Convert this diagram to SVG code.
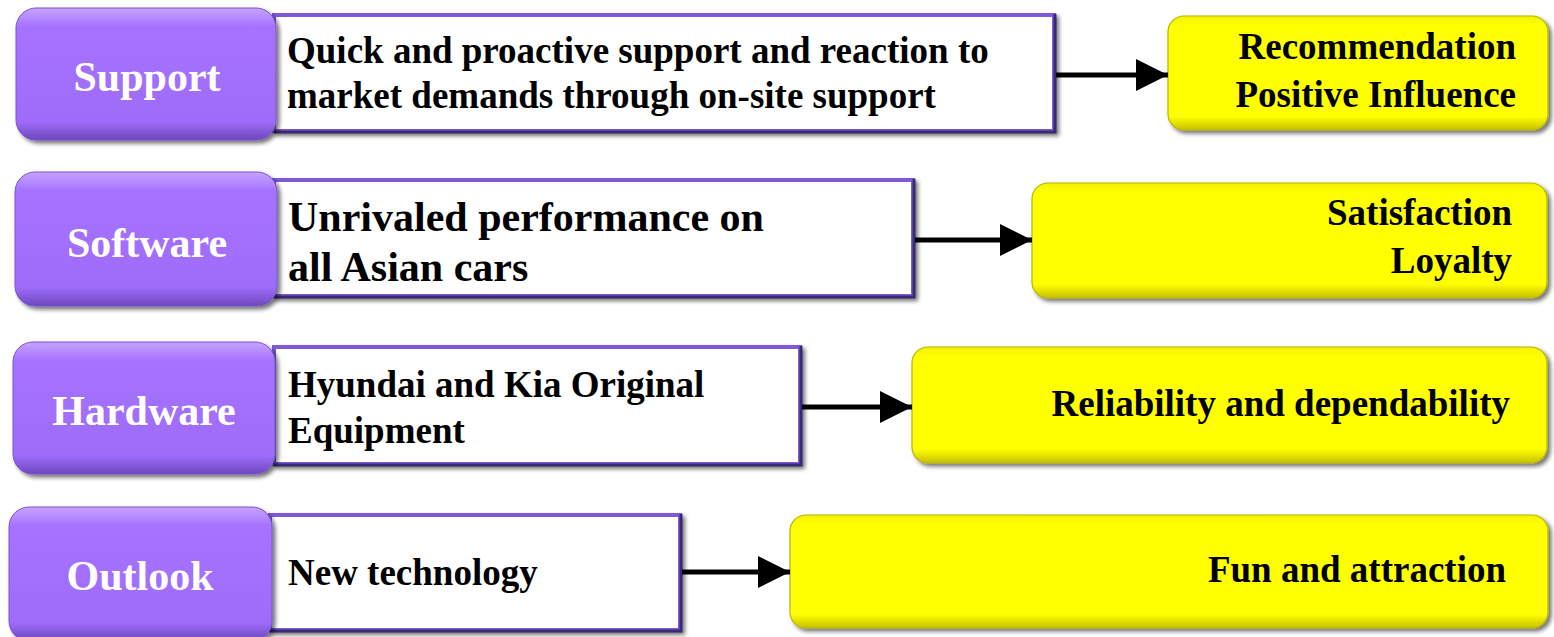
<svg xmlns="http://www.w3.org/2000/svg" width="1554" height="637" viewBox="0 0 1554 637">
  <defs>
    <linearGradient id="gPurple" x1="0" y1="0" x2="0" y2="1">
      <stop offset="0" stop-color="#c6a2ff"/>
      <stop offset="0.07" stop-color="#b68cff"/>
      <stop offset="0.14" stop-color="#a672ff"/>
      <stop offset="0.86" stop-color="#9f6cfa"/>
      <stop offset="1" stop-color="#6c48bd"/>
    </linearGradient>
    <linearGradient id="gYellow" x1="0" y1="0" x2="0" y2="1">
      <stop offset="0" stop-color="#f2f200"/>
      <stop offset="0.08" stop-color="#ffff00"/>
      <stop offset="0.88" stop-color="#ffff00"/>
      <stop offset="1" stop-color="#c8c000"/>
    </linearGradient>
    <filter id="shadow" x="-5%" y="-10%" width="115%" height="130%">
      <feGaussianBlur in="SourceAlpha" stdDeviation="2"/>
      <feOffset dx="3" dy="3" result="o"/>
      <feComponentTransfer><feFuncA type="linear" slope="0.55"/></feComponentTransfer>
      <feMerge><feMergeNode/><feMergeNode in="SourceGraphic"/></feMerge>
    </filter>
    <marker id="ah" markerUnits="userSpaceOnUse" markerWidth="32" markerHeight="32" refX="32" refY="16" orient="auto" viewBox="0 0 32 32">
      <path d="M0,0 L32,16 L0,32 Z" fill="#000"/>
    </marker>
  </defs>
  <style>
    .btn { fill: url(#gPurple); stroke: #7a55d0; stroke-width: 1; filter: url(#shadow); }
    .btxt { font-family: "Liberation Serif", "Times New Roman", serif; font-weight: bold; font-size: 42px; fill: #ffffff; text-anchor: middle; }
    .box { fill: #ffffff; stroke: #7e5ad8; stroke-width: 4; filter: url(#shadow); }
    .edge { stroke: #3a2a72; stroke-width: 3; fill: none; }
    .wtxt { font-family: "Liberation Serif", "Times New Roman", serif; font-weight: bold; font-size: 37px; fill: #000000; }
    .wtxt.big { font-size: 42px; }
    .yel { fill: url(#gYellow); stroke: #b8b400; stroke-width: 1.2; filter: url(#shadow); }
    .ytxt { font-family: "Liberation Serif", "Times New Roman", serif; font-weight: bold; font-size: 37px; fill: #000000; text-anchor: end; }
    .conn { stroke: #000; stroke-width: 5; fill: none; marker-end: url(#ah); }
  </style>

  <rect width="1554" height="637" fill="#ffffff"/>

  <!-- Row 1 -->
  <g id="desc-support">
    <rect class="box" x="274" y="15" width="780" height="116"/>
    <path class="edge" d="M1055,14 V132 H274"/>
    <text class="wtxt" x="287" y="63">Quick and proactive support and reaction to</text>
    <text class="wtxt" x="287" y="108">market demands through on-site support</text>
  </g>
  <g id="btn-support">
    <rect class="btn" x="16" y="8" width="260" height="132" rx="20" ry="20"/>
    <text class="btxt" x="147" y="91">Support</text>
  </g>
  <g id="res-support">
    <rect class="yel" x="1168" y="16" width="380" height="114" rx="16" ry="16"/>
    <text class="ytxt" x="1516" y="59">Recommendation</text>
    <text class="ytxt" x="1516" y="107">Positive Influence</text>
  </g>

  <!-- Row 2 -->
  <g id="desc-software">
    <rect class="box" x="274" y="180" width="639" height="116"/>
    <path class="edge" d="M914,179 V297 H274"/>
    <text class="wtxt big" x="288" y="231">Unrivaled performance on</text>
    <text class="wtxt big" x="288" y="281">all Asian cars</text>
  </g>
  <g id="btn-software">
    <rect class="btn" x="15" y="172" width="262" height="134" rx="20" ry="20"/>
    <text class="btxt" x="147" y="257">Software</text>
  </g>
  <g id="res-software">
    <rect class="yel" x="1032" y="183" width="515" height="115" rx="16" ry="16"/>
    <text class="ytxt" x="1512" y="225">Satisfaction</text>
    <text class="ytxt" x="1512" y="273">Loyalty</text>
  </g>

  <!-- Row 3 -->
  <g id="desc-hardware">
    <rect class="box" x="274" y="347" width="526" height="117"/>
    <path class="edge" d="M801,346 V465 H274"/>
    <text class="wtxt" x="288" y="397">Hyundai and Kia Original</text>
    <text class="wtxt" x="288" y="443">Equipment</text>
  </g>
  <g id="btn-hardware">
    <rect class="btn" x="13" y="342" width="262" height="132" rx="20" ry="20"/>
    <text class="btxt" x="144" y="425">Hardware</text>
  </g>
  <g id="res-hardware">
    <rect class="yel" x="912" y="347" width="635" height="116" rx="16" ry="16"/>
    <text class="ytxt" x="1510" y="416">Reliability and dependability</text>
  </g>

  <!-- Row 4 -->
  <g id="desc-outlook">
    <rect class="box" x="270" y="515" width="410" height="115"/>
    <path class="edge" d="M681,514 V631 H270"/>
    <text class="wtxt" x="288" y="585">New technology</text>
  </g>
  <g id="btn-outlook">
    <rect class="btn" x="9" y="507" width="263" height="134" rx="20" ry="20"/>
    <text class="btxt" x="140" y="590">Outlook</text>
  </g>
  <g id="res-outlook">
    <rect class="yel" x="790" y="515" width="758" height="113" rx="16" ry="16"/>
    <text class="ytxt" x="1506" y="582">Fun and attraction</text>
  </g>

  <!-- Connectors -->
  <g id="connectors">
    <line class="conn" x1="1056" y1="75" x2="1168" y2="75"/>
    <line class="conn" x1="915" y1="240" x2="1032" y2="240"/>
    <line class="conn" x1="802" y1="407" x2="912" y2="407"/>
    <line class="conn" x1="682" y1="572" x2="790" y2="572"/>
  </g>
</svg>
